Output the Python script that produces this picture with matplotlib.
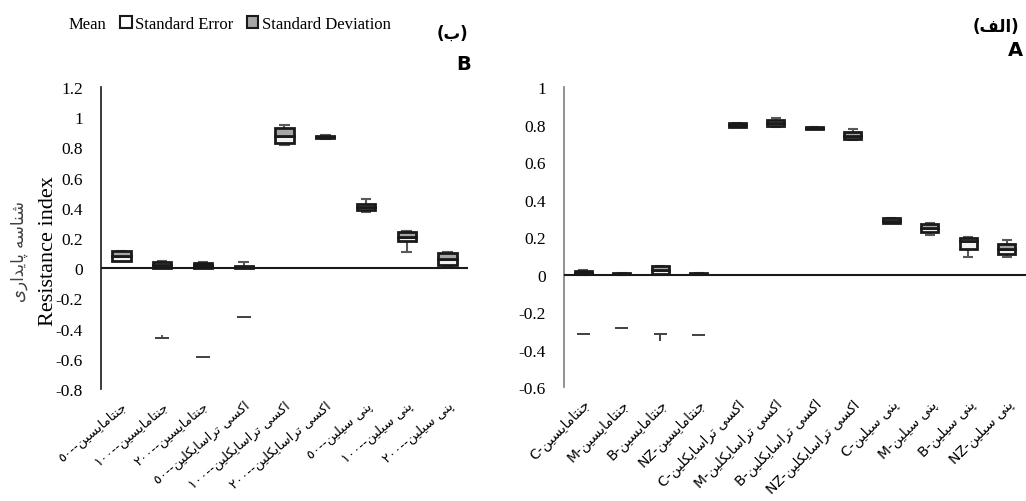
import matplotlib
matplotlib.use("Agg")
import matplotlib.pyplot as plt
from matplotlib.patches import Patch
from matplotlib.lines import Line2D
import numpy as np

# --- data -------------------------------------------------------------
# panel B (left): drug + dose
drugs_B = ["جنتامایسین", "جنتامایسین", "جنتامایسین",
           "اکسی تراسایکلین", "اکسی تراسایکلین", "اکسی تراسایکلین",
           "پنی سیلین", "پنی سیلین", "پنی سیلین"]
doses_B = ["٥٠", "١٠٠", "٢٠٠", "٥٠", "١٠٠", "٢٠٠", "٥٠", "١٠٠", "٢٠٠"]
low_B = [0.05, 0.0, 0.0, 0.0, 0.817, 0.858, 0.369, 0.11, 0.01]
q1_B = [0.045, 0.003, 0.003, 0.004, 0.832, 0.86, 0.384, 0.18, 0.022]
mean_B = [0.08, 0.02, 0.018, 0.008, 0.875, 0.868, 0.405, 0.205, 0.06]
q3_B = [0.115, 0.042, 0.035, 0.014, 0.927, 0.878, 0.428, 0.24, 0.1]
high_B = [0.115, 0.045, 0.04, 0.04, 0.949, 0.88, 0.46, 0.247, 0.105]
neg_B = [np.nan, -0.46, -0.59, -0.32, np.nan, np.nan, np.nan, np.nan, np.nan]
neg_B_top = [np.nan, -0.44, np.nan, np.nan, np.nan, np.nan, np.nan, np.nan, np.nan]

# panel A (right): drug + sample group
drugs_A = ["جنتامایسین"] * 4 + ["اکسی تراسایکلین"] * 4 + ["پنی سیلین"] * 4
groups_A = ["C", "M", "B", "NZ"] * 3
low_A = [0.0, 0.0, 0.0, 0.0, 0.79, 0.79, 0.775, 0.72, 0.276, 0.212, 0.096, 0.094]
q1_A = [0.002, 0.001, 0.002, 0.001, 0.79, 0.794, 0.777, 0.725, 0.276, 0.23, 0.137, 0.109]
mean_A = [0.01, 0.004, 0.025, 0.005, 0.8, 0.81, 0.784, 0.742, 0.288, 0.25, 0.18, 0.135]
q3_A = [0.018, 0.006, 0.045, 0.009, 0.81, 0.826, 0.79, 0.76, 0.3, 0.27, 0.196, 0.162]
high_A = [0.022, 0.006, 0.045, 0.009, 0.81, 0.838, 0.79, 0.778, 0.3, 0.278, 0.2, 0.185]
neg_A = [-0.317, -0.285, -0.317, -0.32, np.nan, np.nan, np.nan, np.nan,
         np.nan, np.nan, np.nan, np.nan]
neg_A_low = [np.nan, np.nan, -0.357, np.nan, np.nan, np.nan, np.nan, np.nan,
             np.nan, np.nan, np.nan, np.nan]

# --- simple persian shaping (matplotlib has no arabic shaping) --------
FORMS = {
    "ا": ("\uFE8D", "\uFE8E", None, None),
    "ب": ("\uFE8F", "\uFE90", "\uFE91", "\uFE92"),
    "پ": ("\uFB56", "\uFB57", "\uFB58", "\uFB59"),
    "ت": ("\uFE95", "\uFE96", "\uFE97", "\uFE98"),
    "ج": ("\uFE9D", "\uFE9E", "\uFE9F", "\uFEA0"),
    "د": ("\uFEA9", "\uFEAA", None, None),
    "ر": ("\uFEAD", "\uFEAE", None, None),
    "س": ("\uFEB1", "\uFEB2", "\uFEB3", "\uFEB4"),
    "ش": ("\uFEB5", "\uFEB6", "\uFEB7", "\uFEB8"),
    "ف": ("\uFED1", "\uFED2", "\uFED3", "\uFED4"),
    "ک": ("\uFB8E", "\uFB8F", "\uFB90", "\uFB91"),
    "ل": ("\uFEDD", "\uFEDE", "\uFEDF", "\uFEE0"),
    "م": ("\uFEE1", "\uFEE2", "\uFEE3", "\uFEE4"),
    "ن": ("\uFEE5", "\uFEE6", "\uFEE7", "\uFEE8"),
    "ه": ("\uFEE9", "\uFEEA", "\uFEEB", "\uFEEC"),
    "ی": ("\uFBFC", "\uFBFD", "\uFBFE", "\uFBFF"),
}


def shape(word):
    out = []
    for i, ch in enumerate(word):
        if ch not in FORMS:
            out.append(ch)
            continue
        prev = word[i - 1] if i > 0 else ""
        nxt = word[i + 1] if i < len(word) - 1 else ""
        join_prev = prev in FORMS and FORMS[prev][2] is not None
        join_next = nxt in FORMS and FORMS[ch][2] is not None
        iso, fin, ini, med = FORMS[ch]
        if join_prev and join_next:
            out.append(med)
        elif join_prev:
            out.append(fin)
        elif join_next:
            out.append(ini)
        else:
            out.append(iso)
    return "".join(out)


def rtl(text):
    return shape(text)[::-1]


labels_B = [d + "--" + rtl(n) for n, d in zip(drugs_B, doses_B)]
labels_A = [g + "-" + rtl(n) for n, g in zip(drugs_A, groups_A)]

serif = ["Liberation Serif", "DejaVu Serif"]
fa = ["DejaVu Sans"]

fig = plt.figure(figsize=(10.26, 5.02), dpi=100)
axB = fig.add_axes([0.0984, 0.2231, 0.3577, 0.6016])
axA = fig.add_axes([0.5497, 0.2271, 0.4503, 0.597])


def draw(ax, labels, low, q1, mean, q3, high, neg, ylim, yticks, spine_col, fs, rot):
    x = np.arange(len(labels))
    ax.vlines(x, low, high, color="#595959", lw=1.5, zorder=2)
    ax.hlines(low, x - 0.13, x + 0.13, color="#595959", lw=1.5, zorder=2)
    ax.hlines(high, x - 0.13, x + 0.13, color="#595959", lw=1.5, zorder=2)
    ax.bar(x, np.array(mean) - np.array(q1), bottom=q1, width=0.45,
           color="#f2f2f2", edgecolor="#1a1a1a", lw=2, zorder=3)
    ax.bar(x, np.array(q3) - np.array(mean), bottom=mean, width=0.45,
           color="#a6a6a6", edgecolor="#1a1a1a", lw=2, zorder=3)
    ax.hlines(neg, x - 0.17, x + 0.17, color="#404040", lw=1.4, zorder=2)
    ax.axhline(0, color="#1a1a1a", lw=1.5, zorder=4)
    ax.set_xlim(-0.5, len(labels) - 0.5)
    ax.set_ylim(*ylim)
    ax.set_yticks(yticks)
    ax.set_yticklabels([("%g" % v) for v in yticks], fontfamily=serif, fontsize=12.5)
    ax.set_xticks(x)
    ax.set_xticklabels(labels, rotation=rot, ha="right", va="top",
                       rotation_mode="anchor", fontfamily=fa, fontsize=fs)
    ax.tick_params(axis="both", length=0)
    ax.tick_params(axis="y", pad=13)
    ax.tick_params(axis="x", pad=7)
    for s in ["top", "right", "bottom"]:
        ax.spines[s].set_visible(False)
    ax.spines["left"].set_color(spine_col)
    ax.spines["left"].set_linewidth(1.2)
    return x


xB = draw(axB, labels_B, low_B, q1_B, mean_B, q3_B, high_B, neg_B,
          (-0.8, 1.2), [-0.8, -0.6, -0.4, -0.2, 0, 0.2, 0.4, 0.6, 0.8, 1, 1.2],
          "#1a1a1a", 9.5, 40)
axB.vlines(xB, neg_B, neg_B_top, color="#404040", lw=1.2, zorder=2)
xA = draw(axA, labels_A, low_A, q1_A, mean_A, q3_A, high_A, neg_A,
          (-0.6, 1.0), [-0.6, -0.4, -0.2, 0, 0.2, 0.4, 0.6, 0.8, 1],
          "#7f7f7f", 10, 45)
axA.vlines(xA, neg_A, neg_A_low, color="#404040", lw=1.4, zorder=2)

# y labels on the left panel
fig.text(0.047, 0.50, "Resistance index", rotation=90, fontfamily=serif,
         fontsize=16, ha="center", va="center")
fig.text(0.019, 0.50, rtl("شناسه پایداری"), rotation=90, fontfamily=fa,
         fontsize=12, color="#404040", ha="center", va="center")

# panel captions
fig.text(0.441, 0.932, "(" + rtl("ب") + ")", fontfamily=fa, fontsize=12,
         fontweight="bold", ha="center", va="center")
fig.text(0.452, 0.872, "B", fontfamily=["DejaVu Sans"], fontsize=14,
         fontweight="bold", ha="center", va="center")
fig.text(0.971, 0.946, "(" + rtl("الف") + ")", fontfamily=fa, fontsize=12,
         fontweight="bold", ha="center", va="center")
fig.text(0.990, 0.900, "A", fontfamily=["DejaVu Sans"], fontsize=14,
         fontweight="bold", ha="center", va="center")

# legend
handles = [Line2D([], [], color="none"),
           Patch(facecolor="white", edgecolor="#1a1a1a", lw=1.5),
           Patch(facecolor="#a6a6a6", edgecolor="#1a1a1a", lw=1.5)]
fig.legend(handles, ["Mean", "Standard Error", "Standard Deviation"],
           loc="center left", bbox_to_anchor=(0.038, 0.95), ncol=3, frameon=False,
           prop={"family": serif, "size": 12}, handlelength=0.7, handleheight=0.7,
           handletextpad=0.2, columnspacing=0.8)

fig.savefig("out.png", dpi=100)
